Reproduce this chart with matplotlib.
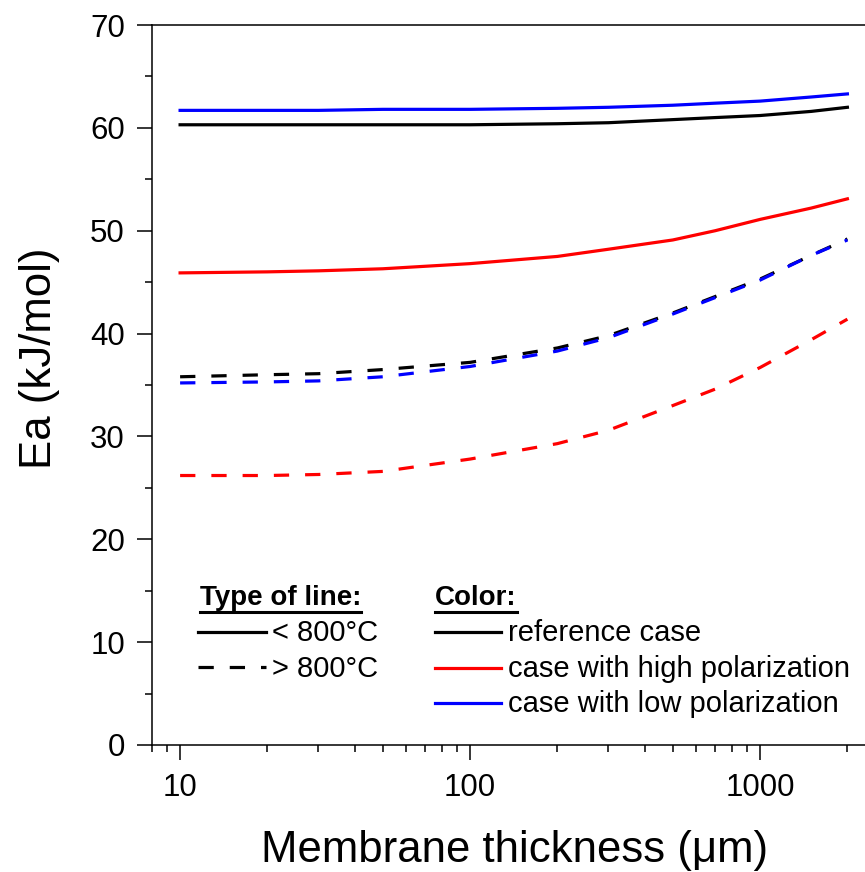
import numpy as np
import matplotlib
matplotlib.use("Agg")
import matplotlib.pyplot as plt
from matplotlib.lines import Line2D
from matplotlib.ticker import FixedLocator, LogLocator, NullFormatter, MultipleLocator

plt.rcParams['font.family'] = ['Liberation Sans', 'DejaVu Sans']
plt.rcParams['lines.scale_dashes'] = False

# membrane thickness (um)
thickness = [10, 20, 30, 50, 100, 200, 300, 500, 700, 1000, 1500, 2000]

# activation energy (kJ/mol), below 800 C (solid)
ref_low = [60.3, 60.3, 60.3, 60.3, 60.3, 60.4, 60.5, 60.8, 61.0, 61.2, 61.6, 62.0]
high_low = [45.9, 46.0, 46.1, 46.3, 46.8, 47.5, 48.2, 49.1, 50.0, 51.1, 52.2, 53.1]
lowp_low = [61.7, 61.7, 61.7, 61.8, 61.8, 61.9, 62.0, 62.2, 62.4, 62.6, 63.0, 63.3]

# above 800 C (dashed)
ref_high = [35.8, 36.0, 36.1, 36.5, 37.2, 38.6, 39.8, 42.0, 43.6, 45.3, 47.6, 49.2]
high_high = [26.2, 26.2, 26.3, 26.6, 27.8, 29.3, 30.6, 33.0, 34.6, 36.7, 39.4, 41.4]
lowp_high = [35.2, 35.3, 35.4, 35.8, 36.8, 38.3, 39.6, 41.9, 43.5, 45.2, 47.6, 49.1]

W, H = 865, 872
fig = plt.figure(figsize=(W / 100, H / 100), dpi=100, facecolor='white')

def fx(px):
    return px / W

def fy(py):
    return 1 - py / H

ax = fig.add_axes([fx(152), fy(745), fx(865) - fx(152), fy(25) - fy(745)])

dash = (11.0, 11.5)
lw = 2.3
ax.plot(thickness, ref_low, color='black', lw=lw)
ax.plot(thickness, lowp_low, color='blue', lw=lw)
ax.plot(thickness, high_low, color='red', lw=lw)
ax.plot(thickness, ref_high, color='black', lw=lw, dashes=dash)
ax.plot(thickness, lowp_high, color='blue', lw=lw, dashes=dash)
ax.plot(thickness, high_high, color='red', lw=lw, dashes=dash)

ax.set_xscale('log')
ax.set_xlim(8, 2300)
ax.set_ylim(0, 70)
ax.xaxis.set_major_locator(FixedLocator([10, 100, 1000]))
ax.xaxis.set_major_formatter(matplotlib.ticker.FixedFormatter(['10', '100', '1000']))
ax.xaxis.set_minor_locator(LogLocator(base=10, subs=np.arange(2, 10)))
ax.xaxis.set_minor_formatter(NullFormatter())
ax.yaxis.set_major_locator(MultipleLocator(10))
ax.yaxis.set_minor_locator(MultipleLocator(5))

ax.spines['right'].set_visible(False)
for s in ['left', 'bottom', 'top']:
    ax.spines[s].set_linewidth(1.1)
ax.tick_params(which='major', direction='out', length=10.5, width=1.1, labelsize=22.5)
ax.tick_params(which='minor', direction='out', length=5, width=1.1)
ax.tick_params(axis='x', which='major', pad=10)
ax.tick_params(axis='y', which='major', pad=9)
ax.tick_params(top=False, which='both')

fig.text(fx(515), fy(850), 'Membrane thickness (\u03bcm)', fontsize=31.5,
         ha='center', va='center')
fig.text(fx(40), fy(358), 'Ea (kJ/mol)', fontsize=31.5, rotation=90,
         ha='center', va='center')

# custom legend
t1 = fig.text(fx(200), fy(605), 'Type of line:', fontsize=20, fontweight='bold',
              ha='left', va='baseline')
t2 = fig.text(fx(435), fy(605), 'Color:', fontsize=20, fontweight='bold',
              ha='left', va='baseline')
fig.canvas.draw()
r = fig.canvas.get_renderer()
for t in (t1, t2):
    bb = t.get_window_extent(r)
    fig.add_artist(Line2D([bb.x0 / W, bb.x1 / W], [fy(612), fy(612)],
                          transform=fig.transFigure, color='black', lw=2.2))

leg_fs = 21
fig.add_artist(Line2D([fx(198), fx(266)], [fy(632), fy(632)],
                      transform=fig.transFigure, color='black', lw=lw))
fig.add_artist(Line2D([fx(198), fx(266)], [fy(667), fy(667)],
                      transform=fig.transFigure, color='black', lw=lw, dashes=dash))
fig.text(fx(272), fy(641), '< 800\u00b0C', fontsize=leg_fs, ha='left', va='baseline')
fig.text(fx(272), fy(677), '> 800\u00b0C', fontsize=leg_fs, ha='left', va='baseline')

colors = ['black', 'red', 'blue']
labels = ['reference case', 'case with high polarization', 'case with low polarization']
rows = [632, 668, 703]
for c, lab, yy in zip(colors, labels, rows):
    fig.add_artist(Line2D([fx(435), fx(501)], [fy(yy), fy(yy)],
                          transform=fig.transFigure, color=c, lw=lw))
    fig.text(fx(508), fy(yy + 9), lab, fontsize=leg_fs, ha='left', va='baseline')

fig.savefig('out.png', dpi=100, facecolor='white')
